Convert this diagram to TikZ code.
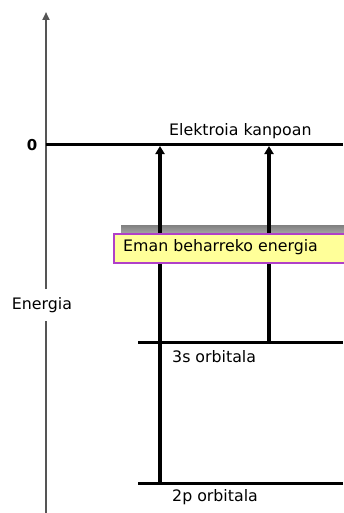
\documentclass[tikz,border=0pt]{standalone}
\usepackage{fontspec}
\setmainfont{DejaVu Sans}
\usetikzlibrary{arrows.meta}
\definecolor{boxfill}{HTML}{FFFF99}
\definecolor{boxedge}{HTML}{B040C8}
\definecolor{shade}{HTML}{BEBEBE}
\definecolor{axisgrey}{HTML}{555555}
\tikzset{
  lvl/.style={line width=3pt, black},
  up/.style={line width=3.2pt, black, -{Triangle[length=8pt,width=9pt]}},
  lbl/.style={font=\fontsize{15.8}{18}\selectfont, inner sep=0pt},
}
\begin{document}
\begin{tikzpicture}[x=1pt,y=-1pt]
\useasboundingbox (0,0) rectangle (343,513);
% axis
\node[lbl] (en) at (42,305) {Energia};
\coordinate (ab) at (46,513);
\coordinate (at) at (46,12);
\draw[axisgrey, line width=2pt] (ab) -- (46,321);
\draw[axisgrey, line width=2pt, -{Triangle[length=8pt,width=7pt]}] (46,289) -- (at);
% zero level
\node[lbl, font=\bfseries\fontsize{15}{18}\selectfont] (zero) at (32,145) {0};
\coordinate (z0) at (46,145);
\coordinate (z1) at (343,145);
\draw[lvl] (z0) -- (z1);
\node[lbl, anchor=west] (ek) at (169,131) {Elektroia kanpoan};
% orbital levels
\coordinate (s0) at (138,342);
\coordinate (s1) at (343,342);
\coordinate (p0) at (138,483);
\coordinate (p1) at (343,483);
\draw[lvl] (s0) -- (s1);
\draw[lvl] (p0) -- (p1);
\node[lbl, anchor=west] (s3) at (172,357) {3s orbitala};
\node[lbl, anchor=west] (p2) at (172,497) {2p orbitala};
% shadow
\fill[shade] (121,225) rectangle (351,254);
% arrows
\coordinate (a1b) at (160,483);
\coordinate (a1t) at (160,146);
\coordinate (a2b) at (269,342);
\coordinate (a2t) at (269,146);
\draw[up] (a1b) -- (a1t);
\draw[up] (a2b) -- (a2t);
% box
\node[draw=boxedge, fill=boxfill, line width=1.5pt, anchor=north west, minimum height=29pt, minimum width=240pt, inner sep=0pt] (box) at (113,233) {};
\node[lbl, anchor=west] (boxt) at (123,247.5) {Eman beharreko energia};
\end{tikzpicture}
\end{document}
